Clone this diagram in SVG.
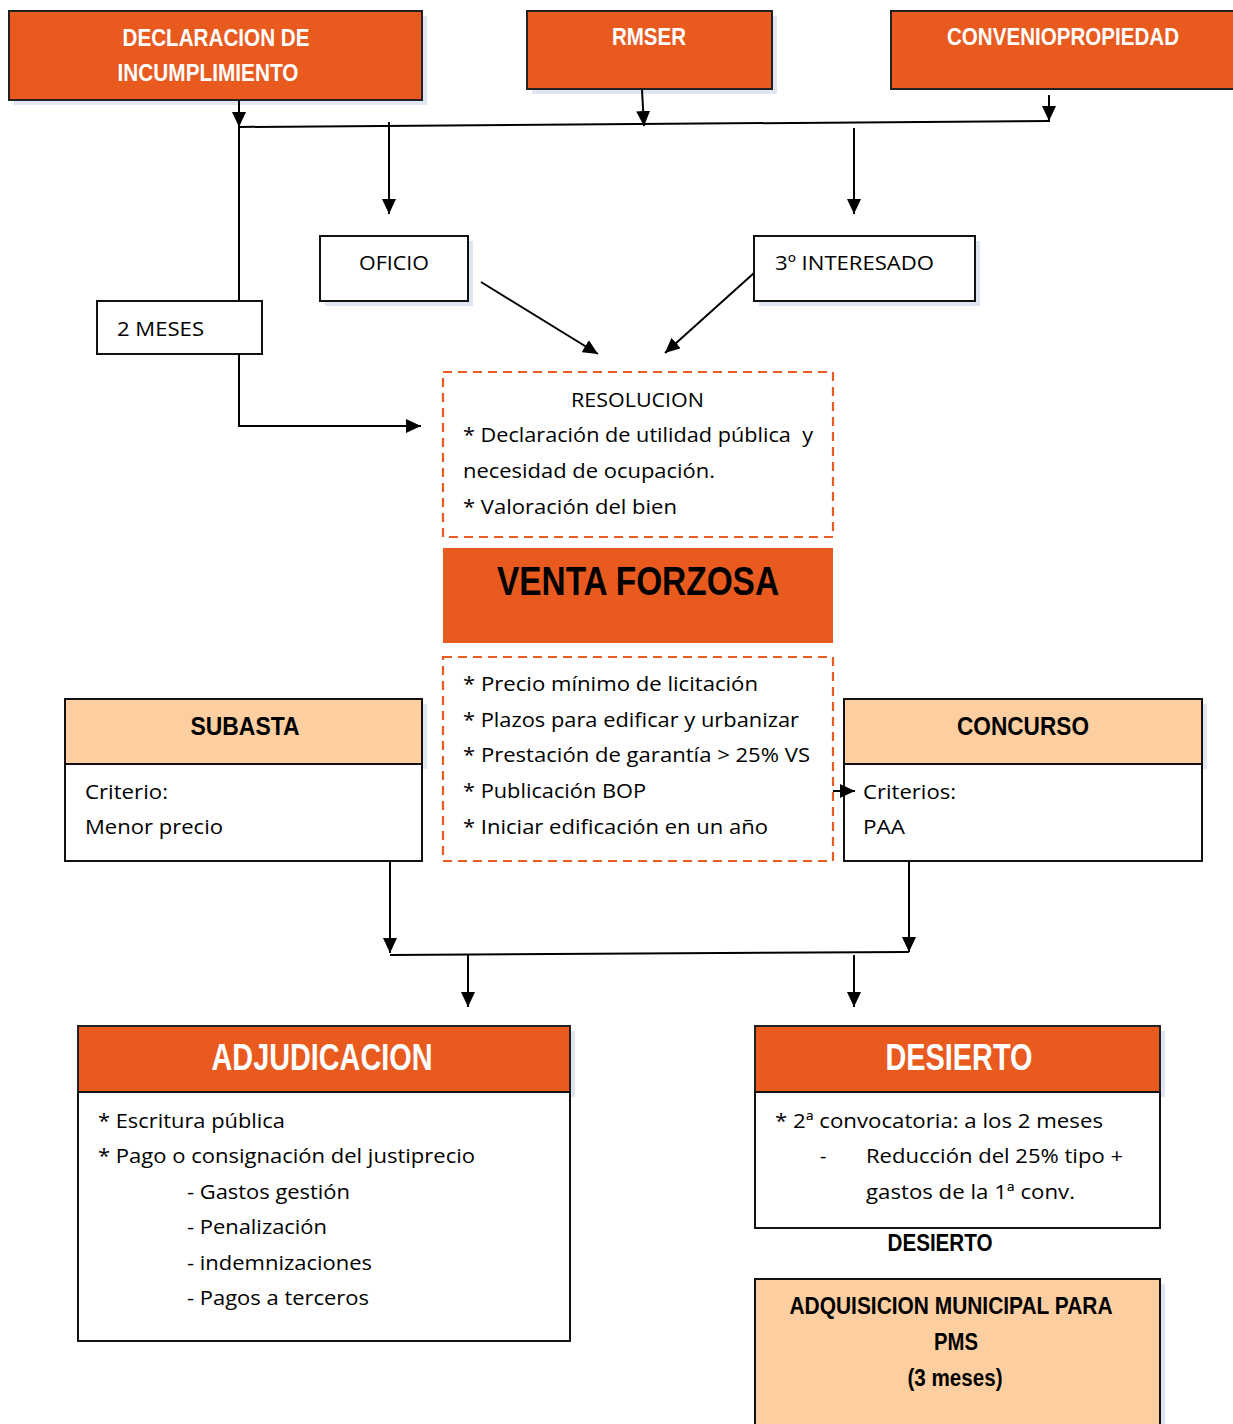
<svg xmlns="http://www.w3.org/2000/svg" width="1233" height="1424" viewBox="0 0 1233 1424">
<defs>
<marker id="ah" markerUnits="userSpaceOnUse" markerWidth="16" markerHeight="14" refX="15" refY="7" orient="auto">
<path d="M0,0 L15,7 L0,14 Z" fill="#000"/>
</marker>
<style>
.orange{fill:#e95a1f;stroke:#222;stroke-width:2}
.orangeNS{fill:#e95a1f}
.peach{fill:#fdcfa0;stroke:#111;stroke-width:2}
.white{fill:#fff;stroke:#111;stroke-width:2}
.dash{fill:none;stroke:#ea5b24;stroke-width:2.2;stroke-dasharray:9,6}
.shadow{fill:#dfe6f1}
.hw{font-family:"Liberation Sans Narrow","Liberation Sans",Arial,sans-serif;font-weight:bold;fill:#fff}
.hb{font-family:"Liberation Sans Narrow","Liberation Sans",Arial,sans-serif;font-weight:bold;fill:#000}
.t{font-family:"Open Sans","Liberation Sans",Arial,sans-serif;font-size:20px;fill:#000}
.conn line,.conn polyline{stroke:#000;stroke-width:2;fill:none}
</style>
</defs>
<rect width="1233" height="1424" fill="#fff"/>

<g id="declaracion">
<rect class="shadow" x="14" y="16" width="413" height="89"/>
<rect class="orange" x="9" y="11" width="413" height="89"/>
<text class="hw" x="216" y="46" font-size="24" text-anchor="middle" textLength="187" lengthAdjust="spacingAndGlyphs">DECLARACION DE</text>
<text class="hw" x="208" y="81" font-size="24" text-anchor="middle" textLength="181" lengthAdjust="spacingAndGlyphs">INCUMPLIMIENTO</text>
</g>
<g id="rmser">
<rect class="shadow" x="532" y="16" width="245" height="78"/>
<rect class="orange" x="527" y="11" width="245" height="78"/>
<text class="hw" x="612" y="45" font-size="24" textLength="74" lengthAdjust="spacingAndGlyphs">RMSER</text>
</g>
<g id="convenio">
<rect class="orange" x="891" y="11" width="350" height="78"/>
<text class="hw" x="947" y="45" font-size="24" textLength="232" lengthAdjust="spacingAndGlyphs">CONVENIOPROPIEDAD</text>
</g>
<g id="oficio">
<rect class="shadow" x="325" y="241" width="148" height="65"/>
<rect class="white" x="320" y="236" width="148" height="65"/>
<text class="t" x="359" y="270" textLength="70" lengthAdjust="spacingAndGlyphs">OFICIO</text>
</g>
<g id="interesado">
<rect class="shadow" x="759" y="241" width="221" height="65"/>
<rect class="white" x="754" y="236" width="221" height="65"/>
<text class="t" x="775" y="270" textLength="159" lengthAdjust="spacingAndGlyphs">3º INTERESADO</text>
</g>
<g id="dosmeses">
<rect class="white" x="97" y="301" width="165" height="53"/>
<text class="t" x="117" y="336" textLength="87" lengthAdjust="spacingAndGlyphs">2 MESES</text>
</g>
<g id="resolucion">
<rect class="dash" x="443" y="372" width="390" height="165"/>
<text class="t" x="571" y="407" textLength="133" lengthAdjust="spacingAndGlyphs">RESOLUCION</text>
<text class="t" x="463" y="442" xml:space="preserve" textLength="350" lengthAdjust="spacingAndGlyphs">* Declaración de utilidad pública  y</text>
<text class="t" x="463" y="478" textLength="252" lengthAdjust="spacingAndGlyphs">necesidad de ocupación.</text>
<text class="t" x="463" y="514" textLength="214" lengthAdjust="spacingAndGlyphs">* Valoración del bien</text>
</g>
<g id="venta">
<rect class="orangeNS" x="443" y="548" width="390" height="95"/>
<text class="hb" x="638" y="595" font-size="40" text-anchor="middle" textLength="282" lengthAdjust="spacingAndGlyphs">VENTA FORZOSA</text>
</g>
<g id="condiciones">
<rect class="dash" x="443" y="657" width="390" height="204"/>
<text class="t" x="463" y="691" textLength="295" lengthAdjust="spacingAndGlyphs">* Precio mínimo de licitación</text>
<text class="t" x="463" y="727" textLength="336" lengthAdjust="spacingAndGlyphs">* Plazos para edificar y urbanizar</text>
<text class="t" x="463" y="762" textLength="347" lengthAdjust="spacingAndGlyphs">* Prestación de garantía &gt; 25% VS</text>
<text class="t" x="463" y="798" textLength="183" lengthAdjust="spacingAndGlyphs">* Publicación BOP</text>
<text class="t" x="463" y="834" textLength="305" lengthAdjust="spacingAndGlyphs">* Iniciar edificación en un año</text>
</g>
<g id="subasta">
<rect class="shadow" x="70" y="704" width="357" height="65"/>
<rect class="peach" x="65" y="699" width="357" height="65"/>
<rect class="white" x="65" y="764" width="357" height="97"/>
<text class="hb" x="245" y="735" font-size="25" text-anchor="middle" textLength="109" lengthAdjust="spacingAndGlyphs">SUBASTA</text>
<text class="t" x="85" y="799" textLength="83" lengthAdjust="spacingAndGlyphs">Criterio:</text>
<text class="t" x="85" y="834" textLength="138" lengthAdjust="spacingAndGlyphs">Menor precio</text>
</g>
<g id="concurso">
<rect class="shadow" x="849" y="704" width="358" height="65"/>
<rect class="peach" x="844" y="699" width="358" height="65"/>
<rect class="white" x="844" y="764" width="358" height="97"/>
<text class="hb" x="1023" y="735" font-size="25" text-anchor="middle" textLength="132" lengthAdjust="spacingAndGlyphs">CONCURSO</text>
<text class="t" x="863" y="799" textLength="93" lengthAdjust="spacingAndGlyphs">Criterios:</text>
<text class="t" x="863" y="834" textLength="42" lengthAdjust="spacingAndGlyphs">PAA</text>
</g>
<g id="adjudicacion">
<rect class="shadow" x="83" y="1031" width="492" height="66"/>
<rect class="orange" x="78" y="1026" width="492" height="66"/>
<rect class="white" x="78" y="1092" width="492" height="249"/>
<text class="hw" x="322" y="1070" font-size="36" text-anchor="middle" textLength="221" lengthAdjust="spacingAndGlyphs">ADJUDICACION</text>
<text class="t" x="98" y="1128" textLength="187" lengthAdjust="spacingAndGlyphs">* Escritura pública</text>
<text class="t" x="98" y="1163" textLength="377" lengthAdjust="spacingAndGlyphs">* Pago o consignación del justiprecio</text>
<text class="t" x="187" y="1199" textLength="163" lengthAdjust="spacingAndGlyphs">- Gastos gestión</text>
<text class="t" x="187" y="1234" textLength="140" lengthAdjust="spacingAndGlyphs">- Penalización</text>
<text class="t" x="187" y="1270" textLength="185" lengthAdjust="spacingAndGlyphs">- indemnizaciones</text>
<text class="t" x="187" y="1305" textLength="182" lengthAdjust="spacingAndGlyphs">- Pagos a terceros</text>
</g>
<g id="desierto">
<rect class="shadow" x="760" y="1031" width="405" height="66"/>
<rect class="orange" x="755" y="1026" width="405" height="66"/>
<rect class="white" x="755" y="1092" width="405" height="136"/>
<text class="hw" x="959" y="1070" font-size="36" text-anchor="middle" textLength="147" lengthAdjust="spacingAndGlyphs">DESIERTO</text>
<text class="t" x="775" y="1128" textLength="328" lengthAdjust="spacingAndGlyphs">* 2ª convocatoria: a los 2 meses</text>
<text class="t" x="820" y="1163">-</text>
<text class="t" x="866" y="1163" textLength="257" lengthAdjust="spacingAndGlyphs">Reducción del 25% tipo +</text>
<text class="t" x="866" y="1199" textLength="209" lengthAdjust="spacingAndGlyphs">gastos de la 1ª conv.</text>
</g>
<g id="desierto-label">
<text class="hb" x="940" y="1251" font-size="24" text-anchor="middle" textLength="105" lengthAdjust="spacingAndGlyphs">DESIERTO</text>
</g>
<g id="adquisicion">
<rect class="shadow" x="760" y="1284" width="405" height="150"/>
<rect class="peach" x="755" y="1279" width="405" height="155"/>
<text class="hb" x="951" y="1314" font-size="24" text-anchor="middle" textLength="323" lengthAdjust="spacingAndGlyphs">ADQUISICION MUNICIPAL PARA</text>
<text class="hb" x="956" y="1350" font-size="24" text-anchor="middle" textLength="44" lengthAdjust="spacingAndGlyphs">PMS</text>
<text class="hb" x="955" y="1386" font-size="24" text-anchor="middle" textLength="95" lengthAdjust="spacingAndGlyphs">(3 meses)</text>
</g>

<g class="conn" id="connectors">
<line x1="239" y1="100" x2="239" y2="127" marker-end="url(#ah)"/>
<line x1="642" y1="90" x2="644" y2="126" marker-end="url(#ah)"/>
<line x1="1049" y1="95" x2="1049" y2="121" marker-end="url(#ah)"/>
<line x1="239" y1="127" x2="1050" y2="121"/>
<line x1="239" y1="127" x2="239" y2="301"/>
<polyline points="239,354 239,426 421,426" marker-end="url(#ah)"/>
<line x1="389" y1="122" x2="389" y2="214" marker-end="url(#ah)"/>
<line x1="854" y1="128" x2="854" y2="214" marker-end="url(#ah)"/>
<line x1="481" y1="282" x2="598" y2="354" marker-end="url(#ah)"/>
<line x1="754" y1="273" x2="665" y2="353" marker-end="url(#ah)"/>
<line x1="833" y1="791" x2="855" y2="791" marker-end="url(#ah)"/>
<line x1="390" y1="861" x2="390" y2="953" marker-end="url(#ah)"/>
<line x1="909" y1="861" x2="909" y2="952" marker-end="url(#ah)"/>
<line x1="390" y1="955" x2="909" y2="952"/>
<line x1="468" y1="955" x2="468" y2="1007" marker-end="url(#ah)"/>
<line x1="854" y1="955" x2="854" y2="1007" marker-end="url(#ah)"/>
</g>
</svg>
